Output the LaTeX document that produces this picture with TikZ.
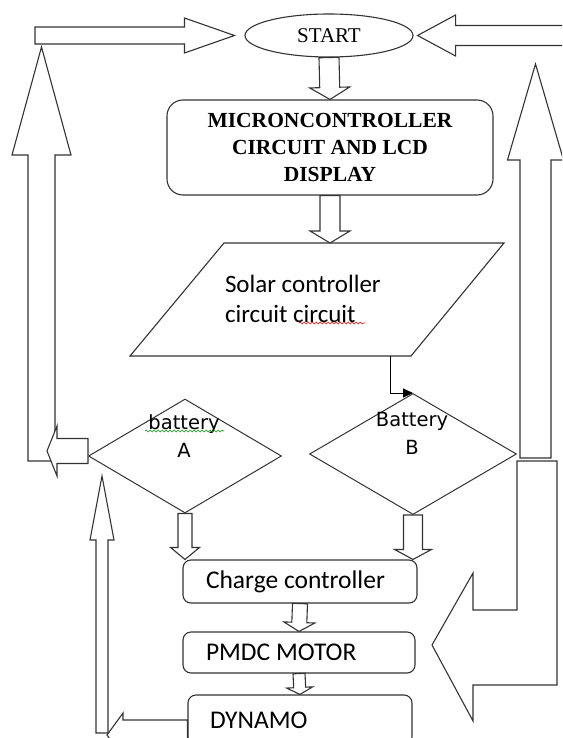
\documentclass[tikz,border=0pt]{standalone}
\usepackage{fontspec}
\setmainfont{Liberation Serif}
\newfontfamily\calfont{Carlito}
\newfontfamily\dejafont{DejaVu Sans}
\usetikzlibrary{shapes.geometric,positioning,calc,arrows.meta,decorations.pathmorphing}

% hollow block arrow: from, to, shaft half width, head half width, head length
\newcommand{\fatarrow}[5]{%
  \coordinate (hb) at ($(#2)!#5!(#1)$);
  \draw[blockarrow] ($(#1)!#3!90:(#2)$) -- ($(hb)!#3!90:(#2)$) -- ($(hb)!#4!90:(#2)$) -- (#2)
    -- ($(hb)!#4!-90:(#2)$) -- ($(hb)!#3!-90:(#2)$) -- ($(#1)!#3!-90:(#2)$) -- cycle;
}

\begin{document}
\begin{tikzpicture}[x=1pt, y=-1pt,
  terminal/.style={ellipse, draw=black!80, line width=1.1pt, minimum width=168pt, minimum height=43pt, inner sep=0pt, font=\fontsize{21}{25}\selectfont},
  mcubox/.style={rectangle, draw=black!80, line width=1.1pt, rounded corners=16pt, align=center, minimum width=326pt, minimum height=95pt, font=\bfseries\fontsize{21.5}{27}\selectfont},
  io/.style={draw=black!80, line width=1.1pt, line join=miter},
  iotext/.style={align=flush left, text width=184pt, inner sep=0pt, font=\calfont\fontsize{25}{30}\selectfont},
  decision/.style={diamond, draw=black!80, line width=1pt, inner sep=0pt},
  dlabel/.style={align=center, inner sep=0pt, font=\dejafont\fontsize{19.5}{28}\selectfont},
  box/.style={rectangle, draw=black!80, line width=1.1pt, rounded corners=8pt, align=flush left, minimum height=43pt, font=\calfont\fontsize{25.5}{28}\selectfont},
  blockarrow/.style={draw=black!80, line width=1.1pt, fill=white, line join=miter},
  flow/.style={-{Triangle[length=10pt,width=9pt]}, line width=1pt, black},
  squig/.style={decorate, decoration={snake, amplitude=0.9pt, segment length=4pt}, line width=0.6pt},
]
\clip (0,0) rectangle (562,738);

% === Main chain ===
\node[terminal] (start) at (329,35.5) {START};
\node[mcubox] (mcu) at (330,147.5) {MICRONCONTROLLER\\CIRCUIT AND LCD\\DISPLAY};

\coordinate (ptl) at (224,243);
\coordinate (ptr) at (504,243);
\coordinate (pbr) at (411,356);
\coordinate (pbl) at (130,356);
\draw[io] (ptl) -- (ptr) -- (pbr) -- (pbl) -- cycle;
\node[iotext] (solar) at (317,298.5) {Solar controller\\circuit circuit};

% === Batteries ===
\node[decision, minimum width=193pt, minimum height=114pt] (batA) at (185,456) {};
\node[decision, minimum width=207pt, minimum height=121pt] (batB) at (413,454) {};
\node[dlabel] (txtA) at (184,436) {battery\\A};
\node[dlabel] (txtB) at (412,433) {Battery\\B};

\node[box, text width=188pt, minimum width=234pt] (charge) at (300,581.5) {Charge controller};
\node[box, text width=186pt, minimum width=232pt, minimum height=41pt] (pmdc) at (299,652.5) {PMDC MOTOR};
\node[box, text width=180pt, minimum width=224pt, minimum height=50pt] (dyn) at (300,720) {DYNAMO};

% spelling marks
\draw[squig, red] (299,323) -- (365,323);
\draw[squig, green!60!black] (145,431) -- (224,431);

% === Block arrows down ===
\fatarrow{start.south}{mcu.north}{10pt}{20pt}{12pt}
\coordinate (stip) at (mcu.south |- ptl);
\fatarrow{mcu.south}{stip}{10pt}{20pt}{12pt}
\coordinate (atip) at (batA.south |- charge.north);
\fatarrow{batA.south}{atip}{7pt}{14.5pt}{12pt}
\coordinate (btip) at (batB.south |- charge.north);
\fatarrow{batB.south}{btip}{9.5pt}{18.5pt}{10pt}
\fatarrow{charge.south}{pmdc.north}{7.5pt}{15.5pt}{9pt}
\fatarrow{pmdc.south}{dyn.north}{6pt}{13pt}{7pt}

\coordinate (sout) at ($(pbr)+(-21,0)$);
\draw[flow] (sout) |- (batB.north);

% === Left loop ===
\coordinate (tlend) at (35,35.5);
\coordinate (tltip) at ([xshift=-10pt]start.west);
\fatarrow{tlend}{tltip}{8.5pt}{17.5pt}{50pt}
\coordinate (lbase) at (41.5,461);
\coordinate (ltip) at (41.5,47);
\fatarrow{lbase}{ltip}{13.5pt}{29.5pt}{108pt}
\coordinate (aout) at ([yshift=5pt]batA.west);
\coordinate (aouttip) at (47,451);
\fatarrow{aout}{aouttip}{12.5pt}{25pt}{10pt}

\coordinate (blbase) at (102,733);
\coordinate (bltip) at (102,476);
\fatarrow{blbase}{bltip}{6pt}{12pt}{64pt}
\coordinate (dout) at ([yshift=-15pt]dyn.west);
\coordinate (douttip) at (107,735);
\fatarrow{dout}{douttip}{15pt}{22pt}{16pt}

% === Right loop ===
\coordinate (trend) at (570,35.5);
\coordinate (trtip) at ([xshift=4pt]start.east);
\fatarrow{trend}{trtip}{10pt}{20.5pt}{38pt}
\coordinate (rbase) at (535.5,458);
\coordinate (rtip) at (535.5,64);
\fatarrow{rbase}{rtip}{15.5pt}{28pt}{96pt}
\draw[blockarrow] (517,461) -- (517,610) -- (473,610) -- (473,573) -- (432,645)
  -- (473,721) -- (473,685) -- (557,685) -- (557,461) -- cycle;

\end{tikzpicture}
\end{document}
